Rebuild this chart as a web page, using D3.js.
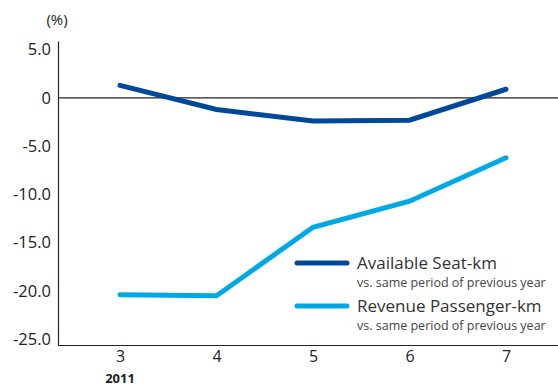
<!DOCTYPE html>
<html>
<head>
<meta charset="utf-8">
<script src="https://cdn.jsdelivr.net/npm/d3@7"></script>
<style>
  body { margin: 0; background: #fff; }
  svg { display: block; font-family: "Open Sans", "Noto Sans", sans-serif; }
</style>
</head>
<body>
<svg id="chart" width="558" height="387"></svg>
<script>
const months = ["3", "4", "5", "6", "7"];
const yearLabel = "2011";
const seatKm = [1.3, -1.2, -2.4, -2.3, 0.9];
const passengerKm = [-20.4, -20.5, -13.4, -10.7, -6.2];
const yTicks = [5, 0, -5, -10, -15, -20, -25];
const seriesNames = ["Available Seat-km", "Revenue Passenger-km"];
const seriesSub = "vs. same period of previous year";
const colors = ["#00489a", "#00a9e6"];

const svg = d3.select("#chart");

const x = d3.scalePoint().domain(months).range([120, 506]);
const y = d3.scaleLinear().domain([-25.6, 5.9]).range([345, 41]);

// y axis: line only, labels right aligned
const yAxis = svg.append("g")
  .attr("transform", "translate(58,0)")
  .call(d3.axisLeft(y).tickValues(yTicks).tickSize(0).tickPadding(7)
    .tickFormat(d => d === 0 ? "0" : d.toFixed(1)));
yAxis.select(".domain").attr("stroke", "#222").attr("stroke-width", 1.2);
yAxis.selectAll("text").attr("font-size", 16.5).attr("fill", "#222")
  .attr("font-family", "'Open Sans', sans-serif");

// x axis at the bottom
const xAxis = svg.append("g")
  .attr("transform", "translate(0,345)")
  .call(d3.axisBottom(x).tickSize(0).tickPadding(6));
xAxis.select(".domain").remove();
xAxis.selectAll("text").attr("font-size", 16).attr("fill", "#222")
  .attr("font-family", "'Open Sans', sans-serif");
svg.append("line")
  .attr("x1", 58).attr("x2", 558).attr("y1", 345.5).attr("y2", 345.5)
  .attr("stroke", "#222").attr("stroke-width", 1.2);

svg.append("text")
  .attr("x", x(months[0])).attr("y", 383)
  .attr("text-anchor", "middle").attr("font-size", 13).attr("font-weight", "bold")
  .attr("fill", "#222").text(yearLabel);

// zero line
svg.append("line")
  .attr("x1", 58).attr("x2", 558).attr("y1", y(0)).attr("y2", y(0))
  .attr("stroke", "#222").attr("stroke-width", 1.2);

svg.append("text")
  .attr("x", 57).attr("y", 25).attr("text-anchor", "middle")
  .attr("font-size", 15).attr("fill", "#222").text("(%)");

// lines
const line = d3.line().x((d, i) => x(months[i])).y(d => y(d));
[seatKm, passengerKm].forEach((s, i) => {
  svg.append("path")
    .datum(s)
    .attr("d", line)
    .attr("fill", "none")
    .attr("stroke", colors[i])
    .attr("stroke-width", 5)
    .attr("stroke-linecap", "round");
});

// legend
const legendY = [263, 306];
seriesNames.forEach((name, i) => {
  const g = svg.append("g").attr("transform", `translate(297,${legendY[i]})`);
  g.append("line").attr("x1", 0).attr("x2", 50).attr("y1", 0).attr("y2", 0)
    .attr("stroke", colors[i]).attr("stroke-width", 5).attr("stroke-linecap", "round");
  g.append("text").attr("x", 60).attr("y", 6)
    .attr("font-size", 17).attr("fill", "#333").text(name);
  g.append("text").attr("x", 60).attr("y", 24)
    .attr("font-size", 12.5).attr("fill", "#444").text(seriesSub);
});
</script>
</body>
</html>
